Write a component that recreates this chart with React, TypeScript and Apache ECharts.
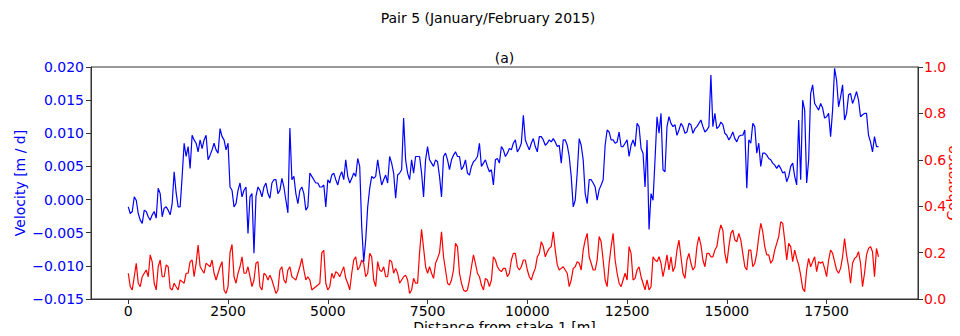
import React, { useEffect, useRef } from "react";
import * as echarts from "echarts";

const STEP = 50;
const velocity = [
  -0.0011, -0.0021, -0.0018, 0.0004, -0.0001, -0.0021, -0.0031, -0.0036, -0.0016, -0.0018,
  -0.0026, -0.0031, -0.0023, -0.0018, -0.0028, 0.0017, 0.0009, -0.0026, -0.0013, -0.0011,
  -0.0016, -0.0023, -0.0006, 0.0042, 0.0010, -0.0011, -0.0011, 0.0035, 0.0085, 0.0065,
  0.0080, 0.0047, 0.0097, 0.0090, 0.0085, 0.0072, 0.0090, 0.0077, 0.0090, 0.0097,
  0.0060, 0.0067, 0.0075, 0.0085, 0.0075, 0.0070, 0.0107, 0.0095, 0.0090, 0.0075,
  0.0085, 0.0019, 0.0014, -0.0011, -0.0006, 0.0014, 0.0025, 0.0004, 0.0014, 0.0019,
  -0.0051, 0.0004, 0.0009, -0.0081, 0.0005, 0.0019, 0.0014, 0.0004, 0.0019, 0.0025,
  0.0009, 0.0002, 0.0025, 0.0030, 0.0030, 0.0009, 0.0014, 0.0032, 0.0019, -0.0001,
  -0.0020, 0.0108, 0.0030, 0.0035, 0.0009, -0.0006, 0.0014, 0.0019, 0.0009, -0.0016,
  -0.0011, 0.0040, 0.0035, 0.0030, 0.0025, 0.0025, 0.0019, 0.0019, 0.0022, -0.0011,
  0.0030, 0.0025, 0.0037, 0.0040, 0.0030, 0.0022, 0.0035, 0.0042, 0.0030, 0.0060,
  0.0035, 0.0025, 0.0032, 0.0040, 0.0035, 0.0062, 0.0050, -0.0041, -0.0094, -0.0061,
  -0.0011, 0.0017, 0.0035, 0.0032, 0.0035, 0.0060, 0.0040, 0.0022, 0.0030, 0.0037,
  0.0025, 0.0065, 0.0055, 0.0040, 0.0002, 0.0037, 0.0040, 0.0045, 0.0123, 0.0060,
  0.0040, 0.0030, 0.0060, 0.0040, 0.0065, 0.0065, 0.0065, 0.0040, 0.0004, 0.0060,
  0.0080, 0.0060, 0.0055, 0.0050, 0.0060, 0.0057, 0.0035, 0.0004, 0.0065, 0.0070,
  0.0060, 0.0045, 0.0060, 0.0067, 0.0072, 0.0065, 0.0065, 0.0045, 0.0050, 0.0060,
  0.0040, 0.0037, 0.0050, 0.0057, 0.0060, 0.0065, 0.0085, 0.0050, 0.0055, 0.0060,
  0.0050, 0.0042, 0.0045, 0.0022, 0.0060, 0.0062, 0.0055, 0.0080, 0.0075, 0.0065,
  0.0070, 0.0077, 0.0075, 0.0085, 0.0090, 0.0072, 0.0077, 0.0085, 0.0127, 0.0090,
  0.0082, 0.0075, 0.0085, 0.0092, 0.0080, 0.0072, 0.0095, 0.0095, 0.0090, 0.0082,
  0.0085, 0.0090, 0.0087, 0.0092, 0.0087, 0.0080, 0.0082, 0.0055, 0.0090, 0.0090,
  0.0082, 0.0065, 0.0035, -0.0011, -0.0001, 0.0040, 0.0092, 0.0082, 0.0060, 0.0009,
  -0.0006, 0.0030, 0.0030, 0.0025, 0.0019, -0.0001, 0.0015, 0.0022, 0.0030, 0.0082,
  0.0105, 0.0102, 0.0090, 0.0090, 0.0085, 0.0087, 0.0102, 0.0080, 0.0080, 0.0085,
  0.0090, 0.0065, 0.0082, 0.0090, 0.0080, 0.0115, 0.0110, 0.0077, 0.0070, 0.0019,
  0.0090, -0.0045, 0.0009, -0.0001, 0.0060, 0.0125, 0.0100, 0.0130, 0.0045, 0.0042,
  0.0110, 0.0125, 0.0115, 0.0110, 0.0113, 0.0097, 0.0105, 0.0115, 0.0110, 0.0100,
  0.0102, 0.0115, 0.0113, 0.0100, 0.0107, 0.0110, 0.0115, 0.0120, 0.0110, 0.0102,
  0.0105, 0.0110, 0.0188, 0.0110, 0.0130, 0.0107, 0.0110, 0.0117, 0.0113, 0.0100,
  0.0097, 0.0090, 0.0095, 0.0102, 0.0092, 0.0087, 0.0095, 0.0097, 0.0097, 0.0105,
  0.0017, 0.0090, 0.0085, 0.0115, 0.0110, 0.0070, 0.0085, 0.0050, 0.0070, 0.0070,
  0.0067, 0.0062, 0.0060, 0.0055, 0.0052, 0.0047, 0.0052, 0.0047, 0.0040, 0.0042,
  0.0027, 0.0035, 0.0050, 0.0055, 0.0035, 0.0022, 0.0120, 0.0030, 0.0150, 0.0135,
  0.0025, 0.0060, 0.0160, 0.0173, 0.0145, 0.0140, 0.0135, 0.0145, 0.0138, 0.0123,
  0.0125, 0.0130, 0.0095, 0.0135, 0.0198, 0.0180, 0.0140, 0.0155, 0.0173, 0.0120,
  0.0130, 0.0158, 0.0160, 0.0145, 0.0153, 0.0163, 0.0150, 0.0125, 0.0128, 0.0130,
  0.0130, 0.0097, 0.0087, 0.0072, 0.0095, 0.0080, 0.0080,
];
const coherence = [
  0.111, 0.053, 0.039, 0.096, 0.154, 0.068, 0.053, 0.096, 0.111, 0.125,
  0.096, 0.190, 0.160, 0.068, 0.039, 0.139, 0.168, 0.096, 0.096, 0.147,
  0.139, 0.046, 0.039, 0.068, 0.053, 0.039, 0.082, 0.075, 0.068, 0.111,
  0.111, 0.161, 0.168, 0.096, 0.154, 0.233, 0.140, 0.125, 0.111, 0.154,
  0.147, 0.139, 0.168, 0.111, 0.082, 0.111, 0.139, 0.161, 0.039, 0.024,
  0.053, 0.200, 0.235, 0.096, 0.068, 0.111, 0.139, 0.182, 0.111, 0.111,
  0.139, 0.096, 0.053, 0.082, 0.154, 0.161, 0.053, 0.039, 0.111, 0.103,
  0.082, 0.103, 0.082, 0.053, 0.024, 0.039, 0.125, 0.139, 0.082, 0.068,
  0.125, 0.139, 0.096, 0.089, 0.082, 0.111, 0.139, 0.175, 0.125, 0.082,
  0.096, 0.082, 0.039, 0.046, 0.053, 0.060, 0.068, 0.200, 0.210, 0.068,
  0.039, 0.053, 0.111, 0.089, 0.118, 0.111, 0.096, 0.118, 0.139, 0.089,
  0.068, 0.039, 0.111, 0.168, 0.182, 0.125, 0.139, 0.168, 0.154, 0.096,
  0.111, 0.197, 0.182, 0.082, 0.053, 0.161, 0.125, 0.118, 0.139, 0.096,
  0.096, 0.168, 0.161, 0.111, 0.132, 0.111, 0.068, 0.082, 0.096, 0.103,
  0.082, 0.024, 0.039, 0.089, 0.068, 0.068, 0.200, 0.300, 0.220, 0.139,
  0.111, 0.139, 0.111, 0.089, 0.154, 0.175, 0.200, 0.290, 0.182, 0.125,
  0.068, 0.060, 0.082, 0.125, 0.240, 0.226, 0.111, 0.068, 0.039, 0.032,
  0.039, 0.082, 0.139, 0.190, 0.154, 0.111, 0.096, 0.060, 0.039, 0.089,
  0.082, 0.053, 0.082, 0.182, 0.168, 0.139, 0.125, 0.118, 0.132, 0.132,
  0.096, 0.111, 0.168, 0.197, 0.197, 0.139, 0.125, 0.139, 0.168, 0.168,
  0.125, 0.096, 0.082, 0.111, 0.132, 0.182, 0.197, 0.247, 0.226, 0.182,
  0.204, 0.218, 0.226, 0.290, 0.211, 0.147, 0.125, 0.132, 0.139, 0.125,
  0.111, 0.053, 0.082, 0.132, 0.139, 0.161, 0.154, 0.125, 0.211, 0.254,
  0.283, 0.182, 0.154, 0.125, 0.125, 0.168, 0.269, 0.247, 0.168, 0.082,
  0.053, 0.154, 0.226, 0.283, 0.168, 0.111, 0.068, 0.053, 0.082, 0.111,
  0.082, 0.226, 0.197, 0.082, 0.089, 0.125, 0.139, 0.096, 0.068, 0.039,
  0.082, 0.039, 0.053, 0.182, 0.168, 0.161, 0.182, 0.154, 0.096, 0.139,
  0.190, 0.125, 0.182, 0.118, 0.139, 0.211, 0.254, 0.182, 0.111, 0.089,
  0.168, 0.197, 0.154, 0.125, 0.139, 0.226, 0.269, 0.233, 0.168, 0.139,
  0.197, 0.197, 0.182, 0.182, 0.211, 0.226, 0.283, 0.319, 0.297, 0.197,
  0.154, 0.226, 0.283, 0.297, 0.254, 0.247, 0.283, 0.254, 0.197, 0.139,
  0.125, 0.211, 0.211, 0.139, 0.154, 0.197, 0.269, 0.326, 0.290, 0.226,
  0.190, 0.190, 0.154, 0.168, 0.211, 0.240, 0.269, 0.333, 0.326, 0.254,
  0.168, 0.240, 0.226, 0.161, 0.211, 0.175, 0.147, 0.103, 0.046, 0.032,
  0.125, 0.175, 0.139, 0.161, 0.182, 0.118, 0.161, 0.154, 0.161, 0.132,
  0.096, 0.168, 0.211, 0.197, 0.161, 0.125, 0.111, 0.132, 0.182, 0.261,
  0.190, 0.139, 0.068, 0.154, 0.175, 0.182, 0.204, 0.154, 0.053, 0.111,
  0.190, 0.218, 0.226, 0.204, 0.096, 0.218, 0.182,
];
const distances = velocity.map((_, i) => i * STEP);
const xTicks = [0, 2500, 5000, 7500, 10000, 12500, 15000, 17500];

const FONT = "DejaVu Sans";
const AXIS = "#333";

export default function App() {
  const ref = useRef<HTMLDivElement>(null);
  useEffect(() => {
    const chart = echarts.init(ref.current!, null, { renderer: "svg" });
    chart.setOption({
      animation: false,
      textStyle: { fontFamily: FONT },
      grid: {
        left: 91, right: 42, top: 67, bottom: 37,
        show: true, borderColor: AXIS, borderWidth: 1,
        containLabel: false, outerBoundsMode: "none",
      },
      graphic: [
        { type: "text", x: 488, y: 18, style: { text: "Pair 5 (January/February 2015)", font: `14px '${FONT}'`, fill: "#000", textAlign: "center", textVerticalAlign: "middle" } },
        { type: "text", x: 504.5, y: 58, style: { text: "(a)", font: `14px '${FONT}'`, fill: "#000", textAlign: "center", textVerticalAlign: "middle" } },
      ],
      xAxis: {
        type: "value",
        min: -934,
        max: 19790,
        name: "Distance from stake 1 [m]",
        nameLocation: "middle",
        nameGap: 21,
        nameMoveOverlap: false,
        nameTextStyle: { color: "#000", fontSize: 14, fontFamily: FONT },
        axisLine: { show: true, onZero: false, lineStyle: { color: AXIS } },
        axisTick: { show: true, length: 5, lineStyle: { color: AXIS }, customValues: xTicks },
        axisLabel: { color: "#000", fontSize: 14, fontFamily: FONT, margin: 5, customValues: xTicks, formatter: (v: number) => String(v) },
        splitLine: { show: false },
      },
      yAxis: [
        {
          type: "value",
          min: -0.015,
          max: 0.02,
          interval: 0.005,
          name: "Velocity [m / d]",
          nameLocation: "middle",
          nameGap: 64,
          nameMoveOverlap: false,
          nameTextStyle: { color: "#0000ff", fontSize: 14, fontFamily: FONT },
          axisLine: { show: true, onZero: false, lineStyle: { color: AXIS } },
          axisTick: { show: true, length: 5, lineStyle: { color: AXIS } },
          axisLabel: {
            color: "#0000ff",
            fontSize: 14,
            fontFamily: FONT,
            margin: 7,
            formatter: (v: number) => (Math.abs(v) < 1e-9 ? 0 : v).toFixed(3).replace("-", "\u2212"),
          },
          splitLine: { show: false },
        },
        {
          type: "value",
          min: 0,
          max: 1,
          interval: 0.2,
          name: "Coherence",
          nameLocation: "middle",
          nameGap: 27,
          nameMoveOverlap: false,
          nameTextStyle: { color: "#ff0000", fontSize: 14, fontFamily: FONT },
          axisLine: { show: true, onZero: false, lineStyle: { color: AXIS } },
          axisTick: { show: true, length: 5, lineStyle: { color: AXIS } },
          axisLabel: { color: "#ff0000", fontSize: 14, fontFamily: FONT, margin: 6, formatter: (v: number) => v.toFixed(1) },
          splitLine: { show: false },
        },
      ],
      series: [
        {
          type: "line",
          yAxisIndex: 0,
          data: distances.map((d, i) => [d, velocity[i]]),
          showSymbol: false,
          lineStyle: { color: "#0000ff", width: 1.2 },
          itemStyle: { color: "#0000ff" },
        },
        {
          type: "line",
          yAxisIndex: 1,
          data: distances.map((d, i) => [d, coherence[i]]),
          showSymbol: false,
          lineStyle: { color: "#ff0000", width: 1.2 },
          itemStyle: { color: "#ff0000" },
        },
      ],
    });
    return () => chart.dispose();
  }, []);
  return <div ref={ref} style={{ width: 960, height: 336, margin: -8 }} />;
}
